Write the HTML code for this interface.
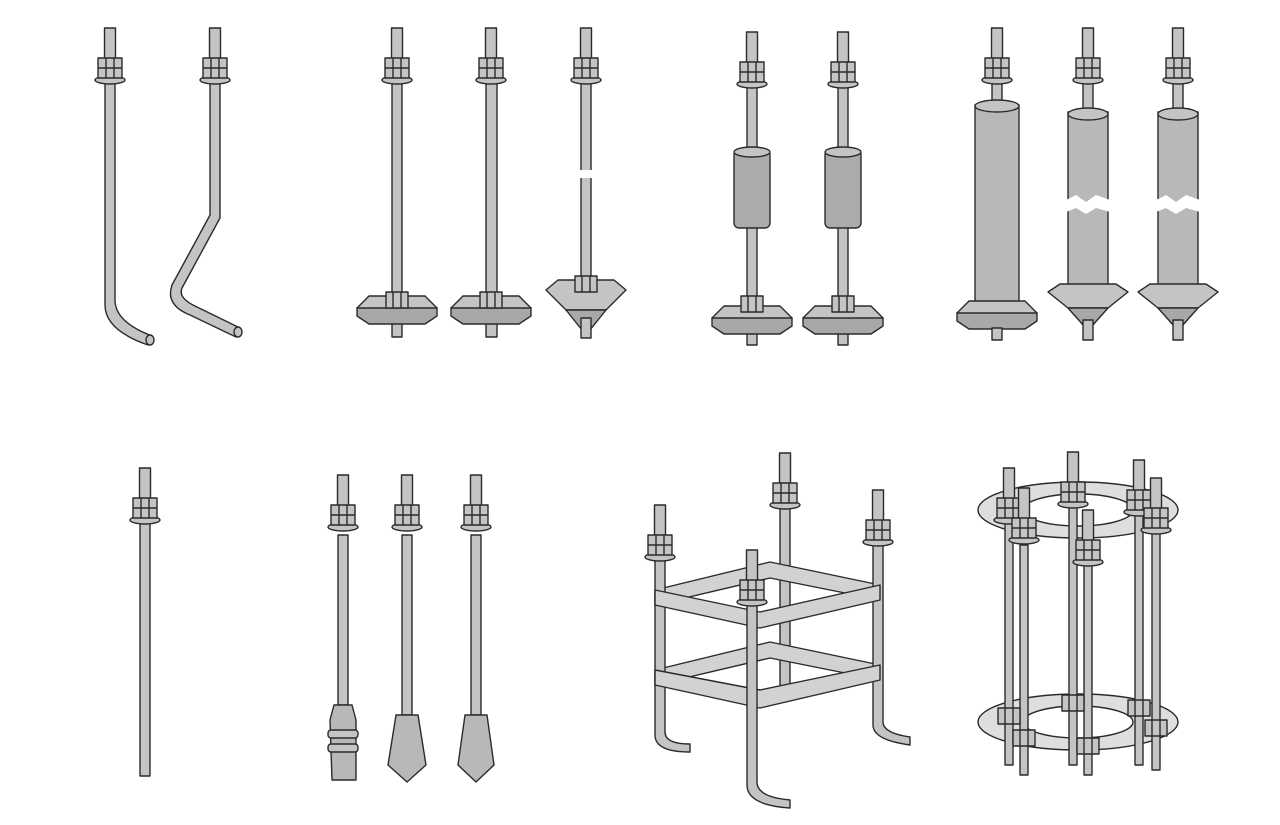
<!DOCTYPE html>
<html><head><meta charset="utf-8"><style>
html,body{margin:0;padding:0;background:#fff;}
svg{display:block}
</style></head><body>
<svg width="1280" height="825" viewBox="0 0 1280 825" xmlns="http://www.w3.org/2000/svg">
<defs>
<g id="top" stroke="#2a2a2a" stroke-width="1.4" fill="#c4c4c4">
  <rect x="-5.5" y="0" width="11" height="32"/>
  <ellipse cx="0" cy="52" rx="15" ry="4"/>
  <rect x="-12" y="30" width="24" height="20"/>
  <line x1="-4" y1="30" x2="-4" y2="50"/>
  <line x1="4" y1="30" x2="4" y2="50"/>
  <line x1="-12" y1="40" x2="12" y2="40"/>
</g>
<g id="bnut" stroke="#2a2a2a" stroke-width="1.4" fill="#c4c4c4">
  <rect x="-11" y="0" width="22" height="16"/>
  <line x1="-4" y1="0" x2="-4" y2="16"/><line x1="4" y1="0" x2="4" y2="16"/>
</g>
<g id="plate" stroke="#2a2a2a" stroke-width="1.4" fill="#c4c4c4">
  <polygon points="-40,8 -28,-4 28,-4 40,8 28,18 -28,18"/>
  <polygon points="-40,8 40,8 40,16 28,24 -28,24 -40,16" fill="#a8a8a8"/>
</g>
</defs>
<g stroke="#2a2a2a" stroke-width="1.4" fill="#c4c4c4" stroke-linejoin="round">

<!-- TOP ROW -->
<!-- bolt 1 -->
<path d="M105 80 L105 305 Q105 330 148 345 L152 336 Q115 322 115 300 L115 80 Z"/>
<ellipse cx="150" cy="340" rx="4" ry="5"/>
<use href="#top" x="110" y="28"/>
<!-- bolt 2 -->
<path d="M210 80 L210 215 L172 285 Q165 305 190 315 L236 337 L240 328 L195 306 Q178 298 182 288 L220 218 L220 80 Z"/>
<ellipse cx="238" cy="332" rx="4" ry="5"/>
<use href="#top" x="215" y="28"/>

<!-- group 2 -->
<g>
<rect x="392" y="80" width="10" height="215"/>
<rect x="392" y="315" width="10" height="22"/>
<use href="#plate" x="397" y="300"/>
<use href="#bnut" x="397" y="292"/>
<use href="#top" x="397" y="28"/>

<rect x="486" y="80" width="11" height="215"/>
<rect x="486" y="315" width="11" height="22"/>
<use href="#plate" x="491" y="300"/>
<use href="#bnut" x="491" y="292"/>
<use href="#top" x="491" y="28"/>

<rect x="581" y="80" width="10" height="200"/>
<rect x="578" y="170" width="16" height="8" fill="#fff" stroke="none"/>
<polygon points="546,290 558,280 614,280 626,290 606,310 566,310"/>
<polygon points="566,310 606,310 590,330 582,330" fill="#a8a8a8"/>
<rect x="581" y="318" width="10" height="20"/>
<use href="#bnut" x="586" y="276"/>
<use href="#top" x="586" y="28"/>
</g>

<!-- group 3 -->
<g>
<rect x="747" y="85" width="10" height="225"/>
<rect x="747" y="325" width="10" height="20"/>
<rect x="734" y="150" width="36" height="78" rx="5" fill="#ababab"/>
<ellipse cx="752" cy="152" rx="18" ry="5"/>
<use href="#plate" x="752" y="310"/>
<use href="#bnut" x="752" y="296"/>
<use href="#top" x="752" y="32"/>

<rect x="838" y="85" width="10" height="225"/>
<rect x="838" y="325" width="10" height="20"/>
<rect x="825" y="150" width="36" height="78" rx="5" fill="#ababab"/>
<ellipse cx="843" cy="152" rx="18" ry="5"/>
<use href="#plate" x="843" y="310"/>
<use href="#bnut" x="843" y="296"/>
<use href="#top" x="843" y="32"/>
</g>

<!-- group 4 -->
<g>
<rect x="992" y="80" width="10" height="30"/>
<rect x="975" y="105" width="44" height="200" fill="#b8b8b8"/>
<ellipse cx="997" cy="106" rx="22" ry="6"/>
<use href="#plate" x="997" y="305"/>
<rect x="992" y="328" width="10" height="12"/>
<use href="#top" x="997" y="28"/>

<rect x="1083" y="80" width="10" height="35"/>
<rect x="1068" y="112" width="40" height="180" fill="#b8b8b8"/>
<ellipse cx="1088" cy="114" rx="20" ry="6"/>
<polygon points="1066,200 1076,195 1086,202 1096,195 1110,200 1110,212 1096,208 1086,214 1076,208 1066,212" fill="#fff" stroke="none"/>
<polygon points="1048,292 1060,284 1116,284 1128,292 1108,308 1068,308"/>
<polygon points="1068,308 1108,308 1092,326 1084,326" fill="#a8a8a8"/>
<rect x="1083" y="320" width="10" height="20"/>
<use href="#top" x="1088" y="28"/>

<rect x="1173" y="80" width="10" height="35"/>
<rect x="1158" y="112" width="40" height="180" fill="#b8b8b8"/>
<ellipse cx="1178" cy="114" rx="20" ry="6"/>
<polygon points="1156,200 1166,195 1176,202 1186,195 1200,200 1200,212 1186,208 1176,214 1166,208 1156,212" fill="#fff" stroke="none"/>
<polygon points="1138,292 1150,284 1206,284 1218,292 1198,308 1158,308"/>
<polygon points="1158,308 1198,308 1182,326 1174,326" fill="#a8a8a8"/>
<rect x="1173" y="320" width="10" height="20"/>
<use href="#top" x="1178" y="28"/>
</g>

<!-- BOTTOM ROW -->
<rect x="140" y="520" width="10" height="256"/>
<use href="#top" x="145" y="468"/>

<!-- group 6 -->
<rect x="338" y="535" width="10" height="170"/>
<path d="M334 705 L352 705 L356 720 L356 780 L332 780 L330 720 Z" fill="#b8b8b8"/>
<rect x="328" y="730" width="30" height="8" rx="3"/>
<rect x="328" y="744" width="30" height="8" rx="3"/>
<use href="#top" x="343" y="475"/>

<rect x="402" y="535" width="10" height="180"/>
<polygon points="396,715 418,715 426,765 407,782 388,765" fill="#b8b8b8"/>
<use href="#top" x="407" y="475"/>

<rect x="471" y="535" width="10" height="180"/>
<polygon points="465,715 487,715 494,765 476,782 458,765" fill="#b8b8b8"/>
<use href="#top" x="476" y="475"/>

<!-- cage -->
<g>
<path d="M780 505 L780 690 Q780 700 790 700 L790 505 Z"/>
<use href="#top" x="785" y="453"/>
<!-- back bands -->
<polygon points="655,590 770,562 880,585 880,600 770,578 655,605" fill="#d2d2d2"/>
<polygon points="655,670 770,642 880,665 880,680 770,658 655,685" fill="#d2d2d2"/>
<path d="M655 545 L655 735 Q655 752 690 752 L690 744 Q665 744 665 732 L665 545 Z"/>
<use href="#top" x="660" y="505"/>
<path d="M873 540 L873 725 Q873 740 910 745 L910 737 Q883 733 883 722 L883 540 Z"/>
<use href="#top" x="878" y="490"/>
<!-- front bands -->
<polygon points="655,590 760,612 880,585 880,600 760,628 655,605" fill="#d2d2d2"/>
<polygon points="655,670 760,690 880,665 880,680 760,708 655,685" fill="#d2d2d2"/>
<path d="M747 600 L747 785 Q747 805 790 808 L790 800 Q757 797 757 782 L757 600 Z"/>
<use href="#top" x="752" y="550"/>
</g>

<!-- ring cage -->
<g fill-opacity="0.85">
<path d="M978 510 a100 28 0 1 0 200 0 a100 28 0 1 0 -200 0 Z M1023 510 a55 16 0 1 0 110 0 a55 16 0 1 0 -110 0 Z" fill="#d8d8d8" fill-rule="evenodd"/>
<path d="M978 722 a100 28 0 1 0 200 0 a100 28 0 1 0 -200 0 Z M1023 722 a55 16 0 1 0 110 0 a55 16 0 1 0 -110 0 Z" fill="#d8d8d8" fill-rule="evenodd"/>
</g>
<g>
<rect x="1005" y="515" width="8" height="250"/>
<use href="#top" x="1009" y="468"/>
<rect x="1069" y="500" width="8" height="265"/>
<use href="#top" x="1073" y="452"/>
<rect x="1135" y="510" width="8" height="255"/>
<use href="#top" x="1139" y="460"/>
<rect x="1152" y="525" width="8" height="245"/>
<use href="#top" x="1156" y="478"/>
<rect x="1020" y="545" width="8" height="230"/>
<use href="#top" x="1024" y="488"/>
<rect x="1084" y="560" width="8" height="215"/>
<use href="#top" x="1088" y="510"/>
<use href="#bnut" x="1024" y="730"/>
<use href="#bnut" x="1088" y="738"/>
<use href="#bnut" x="1156" y="720"/>
<use href="#bnut" x="1009" y="708"/>
<use href="#bnut" x="1073" y="695"/>
<use href="#bnut" x="1139" y="700"/>
</g>
</g>
</svg>
</body></html>
